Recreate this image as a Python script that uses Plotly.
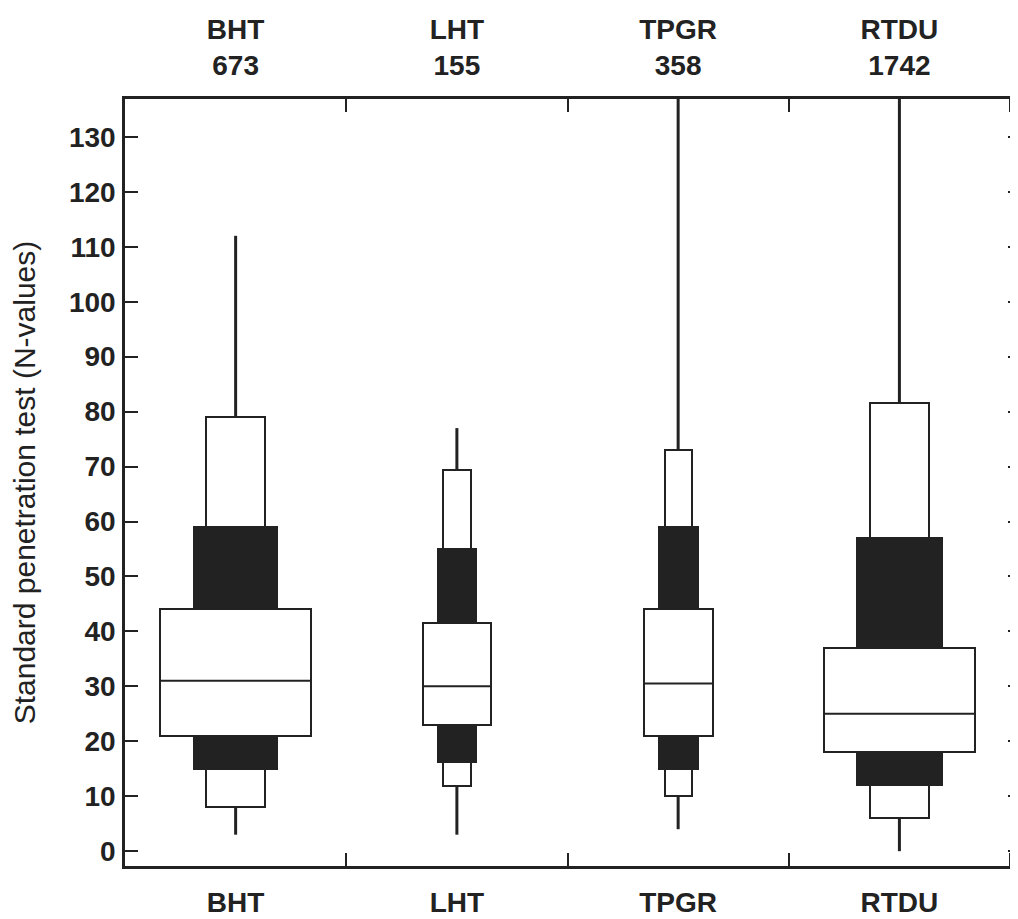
import plotly.graph_objects as go

# ---- data ----
categories = ["BHT", "LHT", "TPGR", "RTDU"]
counts = [673, 155, 358, 1742]
p_min = [3, 3, 4, 0]            # lower whisker end
p_low = [8, 11.8, 10, 6]        # bottom of lower white box
p_lowmid = [15, 16.3, 15, 12]   # bottom of lower black box
q1 = [21, 23, 21, 18]           # bottom of central box
median = [31, 30, 30.5, 25]
q3 = [44, 41.5, 44, 37]         # top of central box
p_highmid = [59, 55, 59, 57]    # top of upper black box
p_high = [79, 69.3, 73, 81.5]   # top of upper white box
p_max = [112, 77, 140, 140]     # upper whisker end
y_ticks = list(range(0, 131, 10))

# ---- style ----
INK = "#222222"
W_CENTRAL = [0.683, 0.307, 0.312, 0.684]
W_BLACK = [0.377, 0.175, 0.175, 0.381]
W_WHITE = [0.267, 0.123, 0.123, 0.268]
FONT = "Arial, Liberation Sans, sans-serif"
X_RANGE = [0.5, 4.545]
Y_RANGE = [-2.7, 136.9]

xs = list(range(1, len(categories) + 1))

fig = go.Figure()

def bar(lo, hi, widths, fill):
    return go.Bar(
        x=xs, base=lo, y=[h - l for h, l in zip(hi, lo)], width=widths,
        marker=dict(color=fill, line=dict(color=INK, width=2)),
        hoverinfo="skip", showlegend=False,
    )

# outer white boxes
fig.add_trace(bar(p_low, p_lowmid, W_WHITE, "white"))
fig.add_trace(bar(p_highmid, p_high, W_WHITE, "white"))
# black boxes
fig.add_trace(bar(p_lowmid, q1, W_BLACK, INK))
fig.add_trace(bar(q3, p_highmid, W_BLACK, INK))
# central boxes
fig.add_trace(bar(q1, q3, W_CENTRAL, "white"))

# medians
mx, my = [], []
for x, m, w in zip(xs, median, W_CENTRAL):
    mx += [x - w / 2, x + w / 2, None]
    my += [m, m, None]
fig.add_trace(go.Scatter(x=mx, y=my, mode="lines", line=dict(color=INK, width=2),
                         hoverinfo="skip", showlegend=False))

# whiskers
wx, wy = [], []
for x, a, b, c, d in zip(xs, p_min, p_low, p_high, p_max):
    wx += [x, x, None, x, x, None]
    wy += [a, b, None, c, d, None]
fig.add_trace(go.Scatter(x=wx, y=wy, mode="lines", line=dict(color=INK, width=3),
                         xaxis="x2", yaxis="y2",
                         hoverinfo="skip", showlegend=False))

sep_vals = [x + 0.5 for x in xs]
minor_sep = dict(tickmode="array", tickvals=sep_vals, ticks="inside",
                 ticklen=13, tickwidth=2, tickcolor=INK, showgrid=False)

fig.update_layout(
    width=1018, height=919,
    margin=dict(l=117, r=6, t=87, b=61),
    paper_bgcolor="white", plot_bgcolor="white",
    barmode="overlay", bargap=0,
    font=dict(family=FONT, color=INK),
    xaxis=dict(
        range=X_RANGE, showgrid=False, zeroline=False,
        showline=True, linecolor=INK, linewidth=2.5,
        tickmode="array", tickvals=xs, ticktext=categories, ticks="",
        ticklabelstandoff=10,
        tickfont=dict(size=28, weight="bold", color=INK),
        minor=minor_sep,
    ),
    xaxis2=dict(
        range=X_RANGE, overlaying="x", side="top", showgrid=False, zeroline=False,
        showline=True, linecolor=INK, linewidth=2.5,
        tickmode="array", tickvals=xs,
        ticktext=[f"{c}<br>{n}" for c, n in zip(categories, counts)], ticks="",
        ticklabelstandoff=10,
        tickfont=dict(size=28, weight="bold", color=INK),
        minor=minor_sep,
    ),
    yaxis=dict(
        range=Y_RANGE, showgrid=False, zeroline=False,
        showline=True, linecolor=INK, linewidth=2.5,
        tickmode="array", tickvals=y_ticks, ticks="inside", ticklen=13,
        tickwidth=2, tickcolor=INK, ticklabelstandoff=1,
        tickfont=dict(size=28, weight="bold", color=INK),
        title=dict(text="Standard penetration test (N-values)",
                   font=dict(size=30, color=INK), standoff=26),
    ),
    yaxis2=dict(
        range=Y_RANGE, overlaying="y", side="right", showgrid=False,
        zeroline=False, showline=False,
        tickmode="array", tickvals=y_ticks, ticks="inside", ticklen=12,
        tickwidth=2, tickcolor=INK, showticklabels=False,
    ),
)

fig.write_html("out.html")
